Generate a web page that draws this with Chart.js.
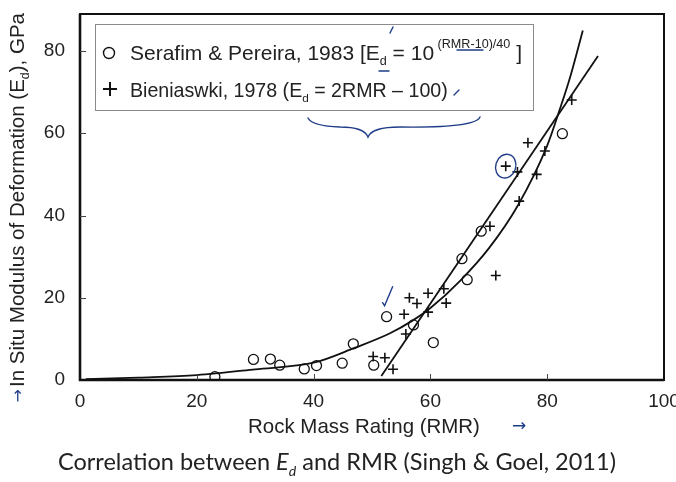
<!DOCTYPE html>
<html>
<head>
<meta charset="utf-8">
<script src="https://cdn.jsdelivr.net/npm/chart.js@4.4.1/dist/chart.umd.min.js"></script>
<style>
  body { margin: 0; background: #fff; }
  canvas { display: block; }
</style>
</head>
<body>
<canvas id="grafico" width="676" height="482"></canvas>
<script>
const ctx = document.getElementById('grafico').getContext('2d');

// Valores -----------------------------------------------------------------------

// Serafim & Pereira (circulos)
const serafim_rmr = [23.1, 29.7, 32.6, 34.2, 38.4, 40.5, 44.9, 46.8, 50.3, 52.5, 57.1, 60.5, 65.4, 66.3, 68.7, 82.6]
const serafim_ed  = [0.8, 5.0, 5.1, 3.6, 2.7, 3.5, 4.1, 8.8, 3.6, 15.4, 13.4, 9.1, 29.5, 24.4, 36.2, 59.9]

// Bieniawski (cruzes)
const bien_rmr = [50.2, 52.2, 53.6, 55.5, 55.8, 56.4, 57.7, 59.6, 59.6, 62.3, 62.7, 70.2, 71.2, 72.9, 74.9, 75.2, 76.7, 78.2, 79.6, 84.2]
const bien_ed  = [5.7, 5.4, 2.6, 16.0, 11.2, 20.0, 18.6, 21.1, 16.5, 22.2, 18.7, 37.4, 25.4, 52.0, 50.6, 43.5, 57.7, 50.0, 55.7, 68.1]

// curva exponencial (lida ponto a ponto)
const curva_rmr = [1, 10, 20, 30, 40, 47, 53, 57, 60, 65, 70, 75, 80, 82.2, 84, 86.1]
const curva_ed  = [0.2, 0.6, 1.2, 2.6, 4.2, 7.8, 11.3, 14.5, 17.5, 24, 32, 42.5, 57, 66, 74, 85]

// reta
const reta_rmr = [51.6, 88.7]
const reta_ed  = [1.0, 78.8]

// eixos
const x_ticks = [0, 20, 40, 60, 80, 100]
const y_ticks = [0, 20, 40, 60, 80]
const y_max = 89

// textos
const legenda_1 = [{t: 'Serafim & Pereira, 1983 [E'}, {t: 'd', sub: true}, {t: ' = 10'}, {t: ' (RMR-10)/40', sup: true}, {t: ' ]'}]
const legenda_2 = [{t: 'Bieniaswki, 1978 (E'}, {t: 'd', sub: true}, {t: ' = 2RMR \u2013 100)'}]
const titulo_y = [{t: 'In Situ Modulus of Deformation (E'}, {t: 'd', sub: true}, {t: '), GPa'}]
const titulo_x = 'Rock Mass Rating (RMR)'
const legenda_fig = [{t: 'Correlation between '}, {t: 'E', it: true}, {t: 'd', it: true, sub: true}, {t: ' and RMR (Singh & Goel, 2011)'}]

const pares = (xs, ys) => xs.map((x, i) => ({x: x, y: ys[i]}))

// Texto com subscrito / sobrescrito -------------------------------------------------------

function fonte(p, size, fam) {
  const s = (p.sub || p.sup) ? size * 0.6 : size
  return (p.it ? 'italic ' : '') + s.toFixed(2) + 'px ' + fam
}

function largura(c, parts, size, fam) {
  let w = 0
  for (const p of parts) {
    c.font = fonte(p, size, fam)
    w += c.measureText(p.t).width
  }
  return w
}

function escreve(c, parts, x, y, size, fam) {
  c.textAlign = 'left'
  c.textBaseline = 'alphabetic'
  for (const p of parts) {
    c.font = fonte(p, size, fam)
    const dy = p.sub ? size * 0.25 : (p.sup ? -size * 0.55 : 0)
    c.fillText(p.t, x, y + dy)
    x += c.measureText(p.t).width
  }
}

function ajusta(c, parts, fam, alvo) {
  return 20 * alvo / largura(c, parts, 20, fam)
}

// Plugin de desenho: moldura, marcas, legenda, titulos -------------------------------------------------------

const desenho = {
  id: 'desenho',
  afterDatasetsDraw(chart) {
    const c = chart.ctx
    const a = chart.chartArea
    const sx = chart.scales.x
    const sy = chart.scales.y
    const arial = '"Liberation Sans", Arial, sans-serif'
    c.save()

    // moldura
    c.strokeStyle = '#111'
    c.lineWidth = 2
    c.strokeRect(a.left, a.top, a.right - a.left, a.bottom - a.top)
    c.lineWidth = 2.6
    c.beginPath()
    c.moveTo(a.left, a.top)
    c.lineTo(a.left, a.bottom)
    c.lineTo(a.right, a.bottom)
    c.stroke()

    // marcas para dentro
    c.lineWidth = 1
    c.strokeStyle = '#444'
    c.beginPath()
    for (const v of x_ticks.slice(1, -1)) {
      const px = Math.round(sx.getPixelForValue(v)) + 0.5
      c.moveTo(px, a.bottom)
      c.lineTo(px, a.bottom - 6)
    }
    for (const v of y_ticks.slice(1)) {
      const py = Math.round(sy.getPixelForValue(v)) + 0.5
      c.moveTo(a.left, py)
      c.lineTo(a.left + 6, py)
    }
    c.stroke()

    // legenda
    c.fillStyle = '#fff'
    c.fillRect(95, 24, 438, 86)
    c.strokeStyle = '#8a8a8a'
    c.lineWidth = 1
    c.strokeRect(95.5, 24.5, 438, 86)
    c.strokeStyle = '#111'
    c.lineWidth = 1.4
    c.beginPath()
    c.arc(109, 53, 5.5, 0, Math.PI * 2)
    c.stroke()
    c.lineWidth = 2
    c.beginPath()
    c.moveTo(103, 89); c.lineTo(117, 89)
    c.moveTo(110, 82); c.lineTo(110, 96)
    c.stroke()
    c.fillStyle = '#222'
    escreve(c, legenda_1, 130, 60, ajusta(c, legenda_1, arial, 392), arial)
    escreve(c, legenda_2, 130, 97, ajusta(c, legenda_2, arial, 318), arial)

    // titulo eixo y (rotacionado)
    const tam_y = ajusta(c, titulo_y, arial, 374)
    c.save()
    c.translate(24, 387)
    c.rotate(-Math.PI / 2)
    c.fillStyle = '#222'
    escreve(c, titulo_y, 0, 0, tam_y, arial)
    c.fillStyle = '#1f3c88'
    c.font = '16px "DejaVu Sans", sans-serif'
    c.textAlign = 'right'
    c.fillText('\u2192', -2, -1)
    c.restore()

    // titulo eixo x
    c.fillStyle = '#222'
    const tam_x = ajusta(c, [{t: titulo_x}], arial, 232)
    c.font = tam_x.toFixed(2) + 'px ' + arial
    c.textAlign = 'center'
    c.textBaseline = 'middle'
    c.fillText(titulo_x, 364, 427)
    c.fillStyle = '#1f3c88'
    c.font = '17px "DejaVu Sans", sans-serif'
    c.fillText('\u2192', 519, 427)

    // legenda da figura
    const lato = 'Lato, "Open Sans", sans-serif'
    const tam_f = ajusta(c, legenda_fig, lato, 558)
    c.fillStyle = '#222'
    escreve(c, legenda_fig, 58, 470, tam_f, lato)

    // anotacoes a mao (azul)
    c.strokeStyle = '#1f3c88'
    c.lineWidth = 1.4
    c.lineCap = 'round'
    // chave sob a legenda
    c.beginPath()
    c.moveTo(308, 118)
    c.quadraticCurveTo(312, 126, 340, 127)
    c.quadraticCurveTo(364, 127, 368, 137)
    c.quadraticCurveTo(372, 127, 400, 127)
    c.quadraticCurveTo(476, 128, 480, 117)
    c.stroke()
    // riscos na legenda
    c.beginPath()
    c.moveTo(390, 33); c.lineTo(393, 27)
    c.moveTo(379, 71); c.lineTo(389, 71)
    c.moveTo(457, 50); c.lineTo(483, 50)
    c.moveTo(454, 95); c.lineTo(459, 90)
    c.stroke()
    // elipse no ponto marcado
    const ex = sx.getPixelForValue(72.9)
    const ey = sy.getPixelForValue(52.0)
    c.beginPath()
    c.ellipse(ex, ey, 10, 12, 0.3, 0, Math.PI * 2)
    c.stroke()
    // visto
    const vx = sx.getPixelForValue(52.5)
    const vy = sy.getPixelForValue(15.4)
    c.beginPath()
    c.moveTo(vx - 4, vy - 14)
    c.lineTo(vx - 2, vy - 11)
    c.lineTo(vx + 6, vy - 30)
    c.stroke()

    c.restore()
  }
}

// Grafico -------------------------------------------------------

const config = {
  type: 'scatter',
  data: {
    datasets: [
      {
        label: 'Serafim & Pereira, 1983',
        data: pares(serafim_rmr, serafim_ed),
        pointStyle: 'circle',
        pointRadius: 5,
        borderColor: '#111',
        backgroundColor: 'rgba(0,0,0,0)',
        borderWidth: 1.3
      },
      {
        label: 'Bieniaswki, 1978',
        data: pares(bien_rmr, bien_ed),
        pointStyle: 'cross',
        pointRadius: 5,
        borderColor: '#111',
        borderWidth: 1.6
      },
      {
        label: 'curva',
        data: pares(curva_rmr, curva_ed),
        showLine: true,
        pointRadius: 0,
        borderColor: '#111',
        borderWidth: 1.8,
        cubicInterpolationMode: 'monotone'
      },
      {
        label: 'reta',
        data: pares(reta_rmr, reta_ed),
        showLine: true,
        pointRadius: 0,
        borderColor: '#111',
        borderWidth: 1.8
      }
    ]
  },
  options: {
    responsive: false,
    animation: false,
    layout: { padding: { top: 14, right: 12, left: 0, bottom: 0 } },
    plugins: {
      legend: { display: false },
      tooltip: { enabled: false }
    },
    scales: {
      x: {
        type: 'linear',
        min: 0,
        max: 100,
        afterBuildTicks: (s) => { s.ticks = x_ticks.map(v => ({value: v})) },
        ticks: {
          padding: 2,
          color: '#222',
          font: { family: '"Liberation Sans", Arial, sans-serif', size: 19 }
        },
        grid: { display: false },
        border: { display: false },
        afterFit: (s) => { s.height = 102; s.paddingLeft = 0; s.paddingRight = 0 }
      },
      y: {
        min: 0,
        max: y_max,
        afterBuildTicks: (s) => { s.ticks = y_ticks.map(v => ({value: v})) },
        ticks: {
          padding: 7,
          color: '#222',
          font: { family: '"Liberation Sans", Arial, sans-serif', size: 19 }
        },
        grid: { display: false },
        border: { display: false },
        afterFit: (s) => { s.width = 80; s.paddingTop = 0; s.paddingBottom = 0 }
      }
    }
  },
  plugins: [desenho]
}

const grafico = new Chart(ctx, config)
</script>
</body>
</html>
